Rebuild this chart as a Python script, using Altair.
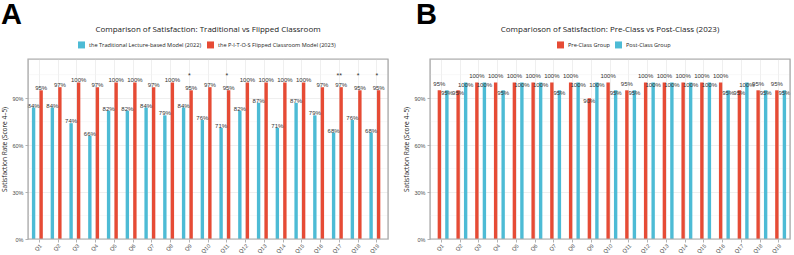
import altair as alt
import pandas as pd

# ---- data -------------------------------------------------------------
questions = ["Q1", "Q2", "Q3", "Q4", "Q5", "Q6", "Q7", "Q8", "Q9", "Q10",
             "Q11", "Q12", "Q13", "Q14", "Q15", "Q16", "Q17", "Q18", "Q19"]

# Panel A: share of students scoring 4-5 (%)
traditional_2022 = [84, 84, 74, 66, 82, 82, 84, 79, 84, 76, 71, 82, 87, 71, 87, 79, 68, 76, 68]
flipped_2023 = [95, 97, 100, 97, 100, 100, 97, 100, 95, 97, 95, 100, 100, 100, 100, 97, 97, 95, 95]
significance = ["", "", "", "", "", "", "", "", "*", "", "*", "", "", "", "", "", "**", "*", "*"]

# Panel B: pre-class vs post-class (%)
pre_class = [95, 95, 100, 100, 100, 100, 100, 100, 90, 100, 95, 100, 100, 100, 100, 100, 95, 95, 95]
post_class = [95, 100, 100, 95, 100, 100, 95, 100, 100, 95, 95, 100, 100, 100, 100, 95, 100, 95, 95]

major_ticks = [0, 30, 60, 90]
minor_ticks = [15, 45, 75, 105]

TRAD = "the Traditional Lecture-based Model (2022)"
FLIP = "the P-I-T-O-S Flipped Classroom Model (2023)"
PRE = "Pre-Class Group"
POST = "Post-Class Group"

BLUE = "#4DBBD5"
RED = "#E64B35"
FRAME = "#A9A9A9"
FONT = "Open Sans"
LABEL_FONT = "Liberation Sans"

W, H = 360, 180
Y_MAX = 115


def x_enc():
    return alt.X(
        "question:N", sort=questions,
        scale=alt.Scale(paddingInner=0, paddingOuter=0.1),
        axis=alt.Axis(title=None, labelAngle=-45, grid=True, bandPosition=0.5,
                      gridColor="#EBEBEB", gridWidth=0.8, domain=False,
                      tickColor="#B3B3B3", tickSize=3, labelFontSize=5.5,
                      labelColor="#4D4D4D", labelFont=LABEL_FONT, labelPadding=1),
    )


def y_enc():
    return alt.Y(
        "rate:Q", scale=alt.Scale(domain=[0, Y_MAX], nice=False, zero=True),
        axis=alt.Axis(values=major_ticks, labelExpr="datum.value + '%'",
                      title="Satisfaction Rate (Score 4\u20135)", titleFontSize=6.5,
                      titleFontWeight="normal", titleFont=FONT, titleColor="#222222",
                      titlePadding=4, gridColor="#EBEBEB", gridWidth=0.8, domain=False,
                      tickColor="#B3B3B3", tickSize=3, labelFontSize=5.5,
                      labelColor="#4D4D4D", labelFont=LABEL_FONT, labelPadding=2),
    )


def offset_enc(order):
    return alt.XOffset("group:N", sort=order,
                       scale=alt.Scale(paddingInner=0.1, paddingOuter=0.54))


def color_enc(order, colors, legend_x):
    return alt.Color(
        "group:N", sort=order, scale=alt.Scale(domain=order, range=colors),
        legend=alt.Legend(title=None, orient="none", direction="horizontal",
                          legendX=legend_x, legendY=-18,
                          symbolType="square", symbolSize=49, symbolStrokeWidth=0,
                          labelFontSize=5.6, labelFont=FONT, labelColor="#222222",
                          labelOffset=4, columnPadding=5),
    )


def minor_grid():
    return alt.Chart(pd.DataFrame({"rate": minor_ticks})).mark_rule(
        color="#F3F3F3", strokeWidth=0.5
    ).encode(y=alt.Y("rate:Q", scale=alt.Scale(domain=[0, Y_MAX], nice=False)))


def panel_border():
    # light grey box around the plotting area
    return alt.Chart(pd.DataFrame({"f": [0]})).mark_rect(
        fill="transparent", stroke=FRAME, strokeWidth=1.2
    ).encode(x=alt.value(0), x2=alt.value(W), y=alt.value(0), y2=alt.value(H))


def heading(letter, letter_x, title):
    letter_mark = alt.Chart(pd.DataFrame({"t": [letter]})).mark_text(
        font="Liberation Sans", fontWeight="bold", fontSize=29, align="left",
        baseline="alphabetic", color="black"
    ).encode(text="t:N", x=alt.value(letter_x), y=alt.value(-35))
    title_mark = alt.Chart(pd.DataFrame({"t": [title]})).mark_text(
        font=FONT, fontSize=8, align="center", baseline="middle", color="#222222"
    ).encode(text="t:N", x=alt.value(W / 2), y=alt.value(-29))
    return letter_mark + title_mark


# ---- panel A ----------------------------------------------------------
order_a = [TRAD, FLIP]
df_a = pd.DataFrame({
    "question": questions * 2,
    "group": [TRAD] * len(questions) + [FLIP] * len(questions),
    "rate": traditional_2022 + flipped_2023,
})
df_a["label"] = df_a["rate"].astype(str) + "%"
df_sig = pd.DataFrame({"question": questions, "star": significance})
df_sig = df_sig[df_sig["star"] != ""]

base_a = alt.Chart(df_a).encode(x=x_enc(), xOffset=offset_enc(order_a))
bars_a = base_a.mark_bar().encode(
    y=y_enc(), color=color_enc(order_a, [BLUE, RED], 50)
)
labels_a = base_a.mark_text(fontSize=6, font=LABEL_FONT, color="#333333",
                            baseline="middle", dy=-2).encode(y="rate:Q", text="label:N")
stars_a = alt.Chart(df_sig).mark_text(fontSize=7, font=LABEL_FONT, color="#333333",
                                      baseline="middle").encode(
    x=alt.X("question:N", sort=questions), y=alt.datum(104), text="star:N")

panel_a = alt.layer(minor_grid(), bars_a, labels_a, stars_a, panel_border(),
                    heading("A", -27, "Comparison of Satisfaction: Traditional vs Flipped Classroom")
                    ).properties(width=W, height=H)

# ---- panel B ----------------------------------------------------------
order_b = [PRE, POST]
df_b = pd.DataFrame({
    "question": questions * 2,
    "group": [PRE] * len(questions) + [POST] * len(questions),
    "rate": pre_class + post_class,
    "other": post_class + pre_class,
})
df_b["label"] = df_b["rate"].astype(str) + "%"
# pre-class labels sit above the bar unless the post-class bar is taller
df_b["above"] = (df_b["group"] == PRE) & (df_b["rate"] >= df_b["other"])

base_b = alt.Chart(df_b).encode(x=x_enc(), xOffset=offset_enc(order_b))
bars_b = base_b.mark_bar().encode(
    y=y_enc(), color=color_enc(order_b, [RED, BLUE], 127)
)
labels_b_up = base_b.transform_filter("datum.above").mark_text(
    fontSize=6, font=LABEL_FONT, color="#333333", baseline="middle", dy=-6
).encode(y="rate:Q", text="label:N")
labels_b_in = base_b.transform_filter("!datum.above").mark_text(
    fontSize=6, font=LABEL_FONT, color="#333333", baseline="middle", dy=3
).encode(y="rate:Q", text="label:N")

panel_b = alt.layer(minor_grid(), bars_b, labels_b_up, labels_b_in, panel_border(),
                    heading("B", -14, "Comparioson of Satisfaction: Pre-Class vs Post-Class (2023)")
                    ).properties(width=W, height=H)

chart = alt.hconcat(panel_a, panel_b, spacing=42, bounds="flush").resolve_scale(
    color="independent", x="independent", y="independent"
).resolve_legend(color="independent").properties(
    padding={"left": 0, "top": 0, "right": 0, "bottom": 0},
    autosize=alt.AutoSizeParams(type="pad"),
).configure_view(stroke=FRAME, strokeWidth=1.2).configure(background="white")

chart.save("out.html", embed_options={"renderer": "svg", "actions": False})
